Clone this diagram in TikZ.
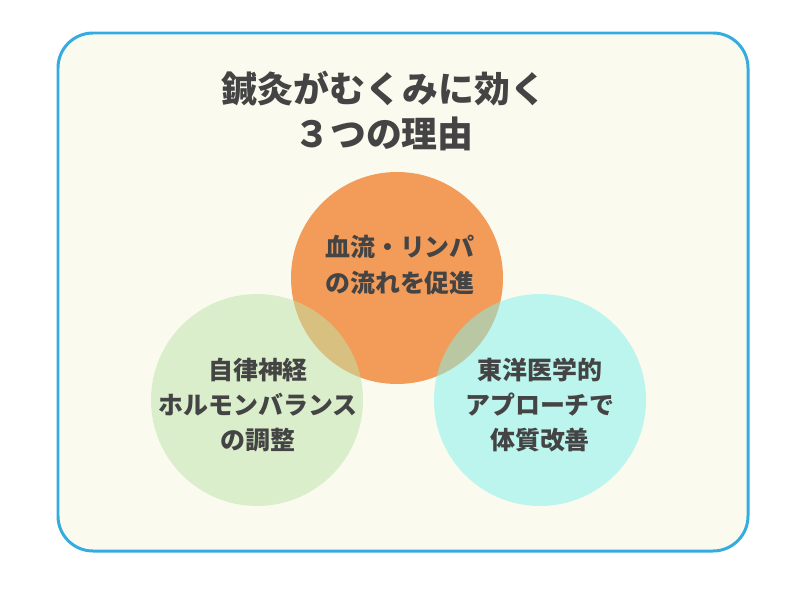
\documentclass[tikz,border=0pt]{standalone}
\usepackage{fontspec}
\newfontfamily\cjk{Noto Sans CJK JP}
\definecolor{frameblue}{HTML}{35ACE0}
\definecolor{bgcream}{HTML}{FAFAEF}
\definecolor{orangec}{HTML}{F39C5A}
\definecolor{greenc}{HTML}{BEE4A9}
\definecolor{cyanc}{HTML}{80F2ED}
\definecolor{txt}{HTML}{444444}
\tikzset{
  lbl/.style={font=\cjk\bfseries\fontsize{7.1pt}{10pt}\selectfont, text=txt, align=center},
  ttl/.style={font=\cjk\bfseries\fontsize{10.2pt}{12.8pt}\selectfont, text=txt, align=center},
  circ/.style={circle, minimum size=2.12cm, inner sep=0pt}
}
\begin{document}
\begin{tikzpicture}
\useasboundingbox (0,0) rectangle (8,6);
\fill[white] (0,0) rectangle (8,6);
\draw[frameblue, line width=0.85pt, fill=bgcream, rounded corners=3.5mm] (0.58,0.49) rectangle (7.48,5.67);
\node[ttl] (title) at (3.84,4.89) {鍼灸がむくみに効く\\３つの理由};
\node[circ, fill=orangec] (o) at (3.97,3.22) {};
\node[circ, fill=greenc, fill opacity=0.5] (g) at (2.57,2.0) {};
\node[circ, fill=cyanc, fill opacity=0.5] (c) at (5.40,2.0) {};
\node[lbl] (ot) at (4.00,3.35) {血流・リンパ\\の流れを促進};
\node[lbl] (gt) at (2.58,1.95) {自律神経\\ホルモンバランス\\の調整};
\node[lbl] (ct) at (5.40,1.95) {東洋医学的\\アプローチで\\体質改善};
\end{tikzpicture}
\end{document}
